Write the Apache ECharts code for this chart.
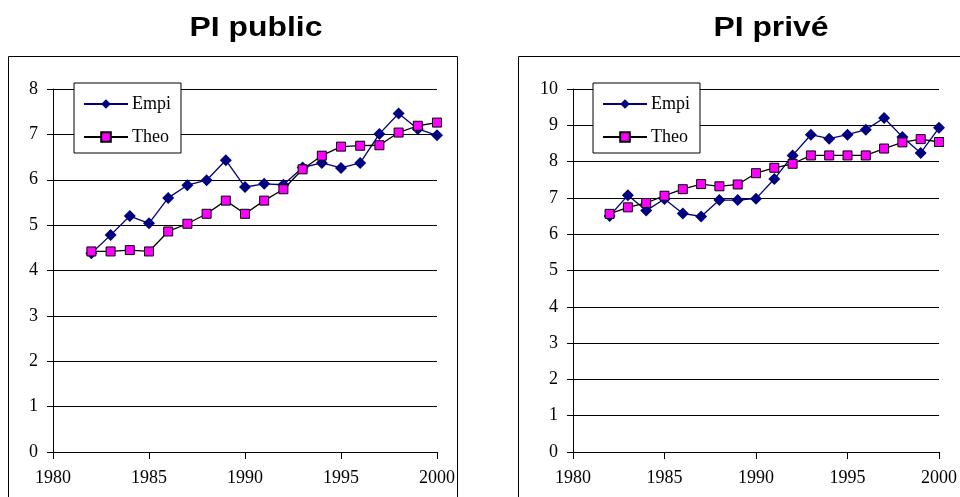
<!DOCTYPE html>
<html>
<head>
<meta charset="utf-8">
<script src="https://cdn.jsdelivr.net/npm/echarts@6/dist/echarts.min.js"></script>
<style>
  html, body { margin: 0; padding: 0; background: #fff; }
  #chart { width: 960px; height: 497px; }
</style>
</head>
<body>
<div id="chart"></div>
<script>
const years = [1982, 1983, 1984, 1985, 1986, 1987, 1988, 1989, 1990, 1991,
    1992, 1993, 1994, 1995, 1996, 1997, 1998, 1999, 2000];

const publicEmpi = [4.38, 4.78, 5.20, 5.04, 5.60, 5.88, 5.99, 6.43, 5.84, 5.91,
    5.89, 6.27, 6.37, 6.26, 6.37, 7.01, 7.46, 7.12, 6.98];
const publicTheo = [4.42, 4.42, 4.45, 4.42, 4.86, 5.03, 5.25, 5.54, 5.25, 5.54,
    5.79, 6.23, 6.53, 6.73, 6.75, 6.76, 7.04, 7.19, 7.26];

const priveEmpi = [6.50, 7.07, 6.65, 6.97, 6.57, 6.49, 6.94, 6.94, 6.98, 7.52,
    8.17, 8.74, 8.63, 8.74, 8.88, 9.20, 8.68, 8.24, 8.93];
const priveTheo = [6.56, 6.74, 6.86, 7.06, 7.24, 7.38, 7.32, 7.37, 7.68, 7.83,
    7.94, 8.17, 8.17, 8.17, 8.17, 8.36, 8.53, 8.62, 8.54];

const titles = ['PI public', 'PI privé'];
const seriesNames = ['Empi', 'Theo'];

const serif = 'Liberation Serif';

function pairs(ys) {
    return years.map((x, i) => [x, ys[i]]);
}

function xAxis(gridIndex) {
    return {
        type: 'value', gridIndex: gridIndex, min: 1980, max: 2000, interval: 5,
        axisLine: { lineStyle: { color: '#000', width: 1 } },
        axisTick: { show: true, length: 7, lineStyle: { color: '#000' } },
        axisLabel: { color: '#000', fontFamily: serif, fontSize: 18, margin: 17,
            formatter: v => String(v) },
        splitLine: { show: false }
    };
}

function yAxis(gridIndex, max) {
    return {
        type: 'value', gridIndex: gridIndex, min: 0, max: max, interval: 1,
        axisLine: { show: true, lineStyle: { color: '#000', width: 1 } },
        axisTick: { show: true, length: 6, lineStyle: { color: '#000' } },
        axisLabel: { color: '#000', fontFamily: serif, fontSize: 18, margin: 15 },
        splitLine: { show: true, lineStyle: { color: '#000', width: 1 } }
    };
}

function legend(left) {
    return {
        left: left, top: 83, orient: 'vertical',
        data: seriesNames,
        backgroundColor: '#fff',
        borderColor: '#000', borderWidth: 1,
        padding: [12, 10, 7, 9],
        itemWidth: 44, itemHeight: 12, itemGap: 15,
        textStyle: { color: '#000', fontFamily: serif, fontSize: 18, padding: [0, 0, 0, -1] }
    };
}

function lineSeries(name, data, idx) {
    const empi = name === 'Empi';
    return {
        type: 'line', name: name, data: pairs(data),
        xAxisIndex: idx, yAxisIndex: idx,
        symbol: empi ? 'diamond' : 'rect',
        symbolSize: empi ? 12 : 9,
        lineStyle: { color: empi ? '#000080' : '#000', width: 1.3 },
        itemStyle: empi
            ? { color: '#000080', borderColor: '#000080', borderWidth: 0 }
            : { color: '#ff00ff', borderColor: '#000', borderWidth: 1 },
        z: empi ? 2 : 3,
        animation: false
    };
}

function titleText(text, cx) {
    return {
        type: 'text', x: cx, y: 29, scaleX: 1.18,
        style: {
            text: text, fill: '#000', align: 'center', verticalAlign: 'middle',
            font: 'bold 27px "Liberation Sans"'
        }
    };
}

const chart = echarts.init(document.getElementById('chart'));

const option = {
    backgroundColor: '#fff',
    animation: false,
    graphic: [
        titleText(titles[0], 256),
        titleText(titles[1], 771),
        { type: 'rect', shape: { x: 8.5, y: 56.5, width: 449, height: 460 },
          style: { fill: 'none', stroke: '#000', lineWidth: 1 }, z: -1 },
        { type: 'rect', shape: { x: 518.5, y: 56.5, width: 460, height: 460 },
          style: { fill: 'none', stroke: '#000', lineWidth: 1 }, z: -1 }
    ],
    grid: [
        { left: 53, top: 89, width: 384, height: 363 },
        { left: 573, top: 89, width: 375, height: 363 }
    ],
    legend: [legend(74), legend(593)],
    xAxis: [xAxis(0), xAxis(1)],
    yAxis: [yAxis(0, 8), yAxis(1, 10)],
    series: [
        lineSeries('Empi', publicEmpi, 0),
        lineSeries('Theo', publicTheo, 0),
        lineSeries('Empi', priveEmpi, 1),
        lineSeries('Theo', priveTheo, 1)
    ]
};

chart.setOption(option);
</script>
</body>
</html>
